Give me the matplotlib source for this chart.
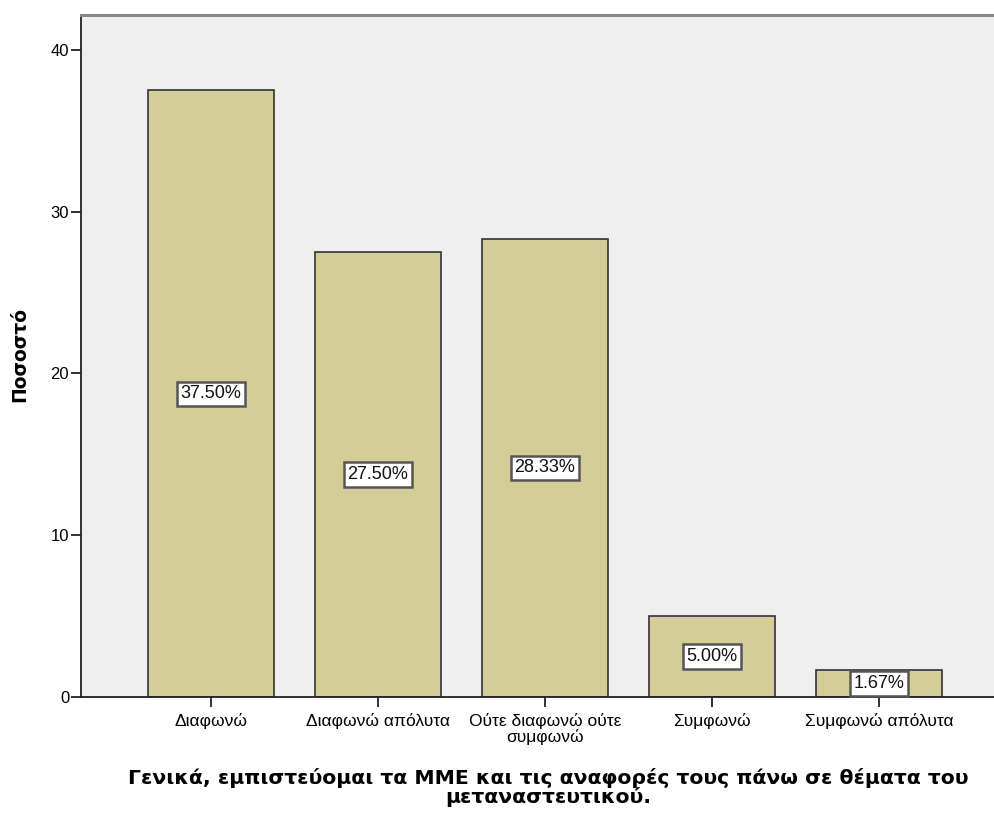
import matplotlib.pyplot as plt

# Ποσοστά απαντήσεων ανά κατηγορία
categories = ['Διαφωνώ', 'Διαφωνώ απόλυτα', 'Ούτε διαφωνώ ούτε\nσυμφωνώ',
              'Συμφωνώ', 'Συμφωνώ απόλυτα']
percent = [37.50, 27.50, 28.33, 5.00, 1.67]
yticks = [0, 10, 20, 30, 40]

plt.rcParams['font.family'] = ['Liberation Sans', 'DejaVu Sans']

fig = plt.figure(figsize=(9.95, 8.14), dpi=100)
ax = fig.add_axes([0.0814, 0.1437, 0.9186, 0.8379])
ax.set_facecolor('#efefef')

x = list(range(len(categories)))
ax.bar(x, percent, width=0.754, color='#d3ce97', edgecolor='#333333', linewidth=1.2, zorder=2)

# ετικέτες τιμών στο μέσο κάθε στήλης
for xi, v in zip(x, percent):
    ax.text(xi, v / 2, '%.2f%%' % v, ha='center', va='center', fontsize=13, zorder=3,
            color='#111111',
            bbox=dict(boxstyle='square,pad=0.2', facecolor='white', edgecolor='#555555', linewidth=1.8))

ax.set_xlim(-0.778, 4.695)
ax.set_ylim(0, 42.16)
ax.set_yticks(yticks)
ax.set_xticks(x)
ax.set_xticklabels(categories, fontsize=12.5, linespacing=1.0)
ax.tick_params(axis='y', labelsize=12, length=7.5, width=1.3, color='#222222', pad=1)
ax.tick_params(axis='x', length=7.5, width=1.3, color='#222222', pad=4)

ax.spines['right'].set_visible(False)
ax.spines['top'].set_color('#888888')
ax.spines['top'].set_linewidth(2.2)
ax.spines['left'].set_color('#222222')
ax.spines['bottom'].set_color('#222222')
ax.spines['left'].set_linewidth(1.3)
ax.spines['bottom'].set_linewidth(1.3)

ax.set_ylabel('Ποσοστό', fontsize=13.5, fontweight='bold', family='DejaVu Sans')
ax.yaxis.set_label_coords(-0.057, 0.5015)
fig.text(0.551, 0.0325, 'Γενικά, εμπιστεύομαι τα ΜΜΕ και τις αναφορές τους πάνω σε θέματα του\nμεταναστευτικού.',
         ha='center', va='center', fontsize=14.7, fontweight='bold', family='DejaVu Sans',
         linespacing=0.95)

fig.savefig('out.png', dpi=100)
